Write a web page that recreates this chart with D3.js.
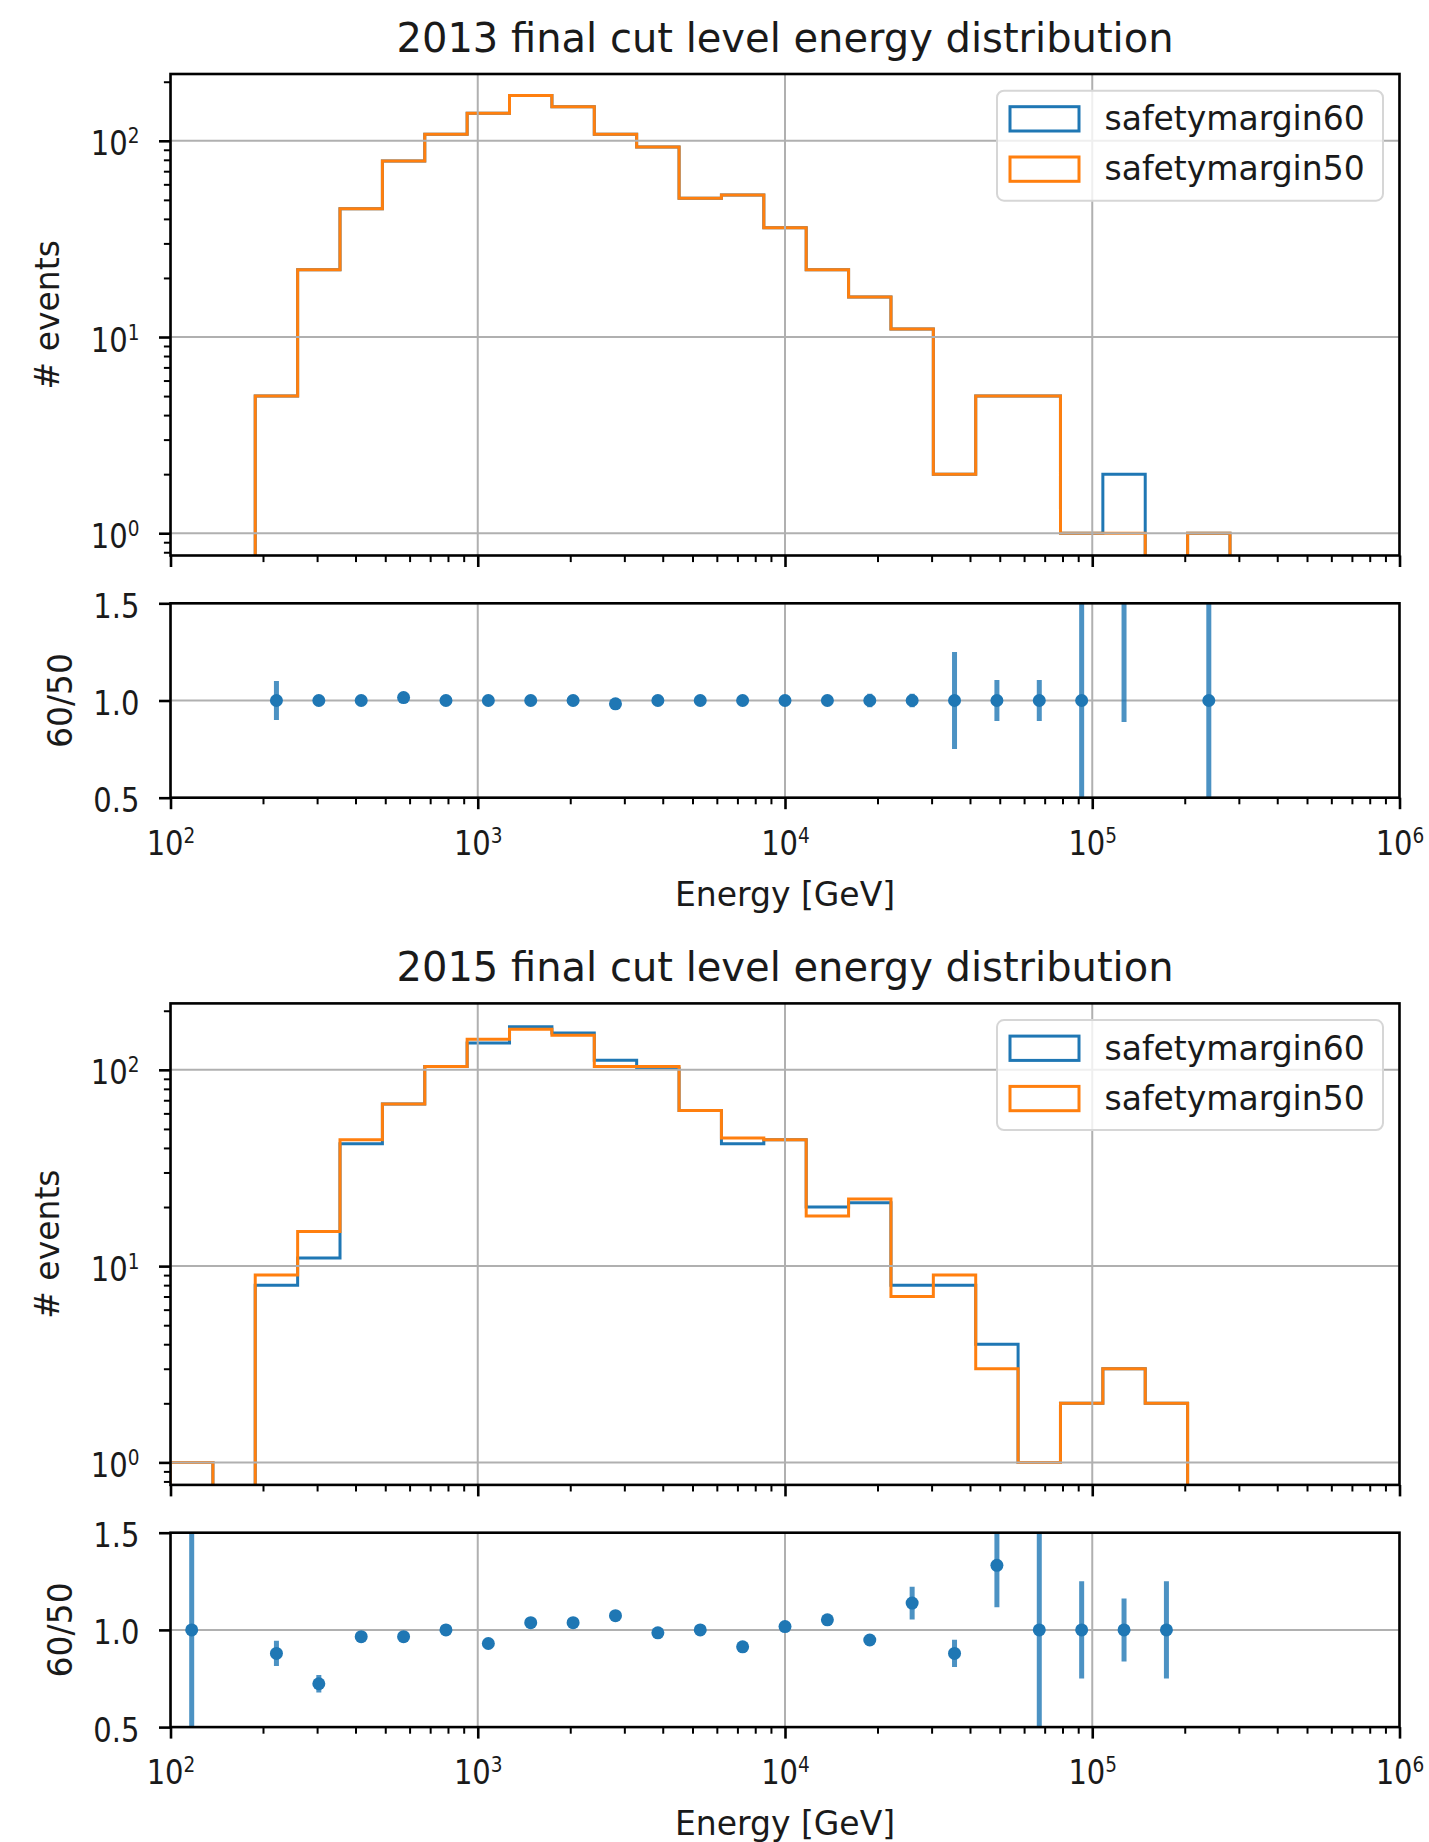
<!DOCTYPE html>
<html>
<head>
<meta charset="utf-8">
<script src="https://cdnjs.cloudflare.com/ajax/libs/d3/7.8.5/d3.min.js"></script>
<style>
body { margin: 0; background: #fff; }
svg text { font-family: "DejaVu Sans", sans-serif; fill: #1a1a1a; }
</style>
</head>
<body>
<script>
let width = 1429
let height = 1842

// histogram bin edges [GeV]
let binEdges = [100, 137.4, 188.7, 259.3, 356.2, 489.4, 672.3, 923.6, 1268.9, 1743.3,
	2395, 3290, 4521, 6210, 8532, 11722, 16104, 22124, 30394, 41755,
	57364, 78809, 108270, 148740, 204350, 280740, 385680, 529860, 727940, 1000000]

let sm60_2013 = [0, 0, 5, 22, 45, 79, 108, 138, 170, 149, 108, 93, 51, 53, 36, 22, 16, 11, 2, 5, 5, 1, 2, 0, 1, 0, 0, 0, 0]
let sm50_2013 = [0, 0, 5, 22, 45, 79, 108, 138, 170, 149, 108, 93, 51, 53, 36, 22, 16, 11, 2, 5, 5, 1, 1, 0, 1, 0, 0, 0, 0]

let sm60_2015 = [1, 0, 8, 11, 42, 67, 104, 137, 166, 154, 112, 102, 62, 42, 44, 20, 21, 8, 8, 4, 1, 2, 3, 2, 0, 0, 0, 0, 0]
let sm50_2015 = [1, 0, 9, 15, 44, 67, 104, 143, 161, 150, 104, 104, 62, 45, 44, 18, 22, 7, 9, 3, 1, 2, 3, 2, 0, 0, 0, 0, 0]

// ratio 60/50 and its error per bin
let ratio2013 = [null, null, 1.0, 1.0, 1.0, 1.015, 1.0, 1.0, 1.0, 1.0, 0.983, 1.0, 1.0, 1.0, 1.0, 1.0, 1.0, 1.0, 1.0, 1.0, 1.0, 1.0, 2.0, null, 1.0, null, null, null, null]
let err2013 = [null, null, 0.10, 0.02, 0.015, 0.015, 0.01, 0.01, 0.01, 0.01, 0.01, 0.01, 0.015, 0.015, 0.02, 0.02, 0.035, 0.035, 0.25, 0.105, 0.105, 1.41, 1.11, null, 1.41, null, null, null, null]

let ratio2015 = [1.0, null, 0.879, 0.723, 0.965, 0.965, 1.0, 0.93, 1.037, 1.037, 1.073, 0.985, 1.0, 0.913, 1.017, 1.052, 0.948, 1.138, 0.879, 1.332, 1.0, 1.0, 1.0, 1.0, null, null, null, null, null]
let err2015 = [1.41, null, 0.065, 0.045, 0.02, 0.015, 0.01, 0.01, 0.01, 0.01, 0.012, 0.01, 0.012, 0.015, 0.015, 0.02, 0.02, 0.084, 0.07, 0.216, 1.41, 0.25, 0.162, 0.25, null, null, null, null, null]

let titles = ["2013 final cut level energy distribution", "2015 final cut level energy distribution"]
let seriesNames = ["safetymargin60", "safetymargin50"]
let colors = ["#1f77b4", "#ff7f0e"]

let xTicks = [1e2, 1e3, 1e4, 1e5, 1e6]
let histTicks = [1, 10, 100]
let ratioTicks = [0.5, 1.0, 1.5]
let yDomain2013 = [0.770, 219]
let yDomain2015 = [0.768, 218]

let svg = d3.select("body")
.append("svg")
.attr("width", width)
.attr("height", height)
.style("background", "#fff")

let x = d3.scaleLog()
.domain([1e2, 1e6])
.range([170.5, 1399.5])

let x0 = x.range()[0], x1 = x.range()[1]
let isMajor = v => Math.abs(Math.log10(v) - Math.round(Math.log10(v))) < 1e-9
let xMinor = x.ticks().filter(v => !isMajor(v))
let squeeze = 0.88 // tick labels are narrower than the other text

function powLabel(sel) {
	let t = sel.append("text")
	t.append("tspan").text("10")
	t.append("tspan")
		.attr("dy", -12)
		.style("font-size", "21px")
		.text(d => Math.round(Math.log10(d)))
	return t
}

function styleAxis(g, major) {
	g.select(".domain").remove()
	g.selectAll(".tick text").remove()
	g.selectAll(".tick line")
		.attr("stroke", "#000")
		.attr("stroke-width", major ? 2.6 : 2)
}

let years = [
	{title: titles[0], counts: [sm60_2013, sm50_2013], ratio: ratio2013, err: err2013, yDomain: yDomain2013, off: 0},
	{title: titles[1], counts: [sm60_2015, sm50_2015], ratio: ratio2015, err: err2015, yDomain: yDomain2015, off: 929.4}
]

years.forEach((yr, k) => {
	let hTop = 74 + yr.off, hBot = 555.5 + yr.off
	let rTop = 603.3 + yr.off, rBot = 797.7 + yr.off

	let y = d3.scaleLog()
		.domain(yr.yDomain)
		.range([hBot, hTop])

	let yR = d3.scaleLinear()
		.domain([0.5, 1.5])
		.range([rBot, rTop])

	let defs = svg.append("defs")
	defs.append("clipPath").attr("id", "clipH" + k)
		.append("rect")
		.attr("x", x0).attr("y", hTop)
		.attr("width", x1 - x0).attr("height", hBot - hTop)
	defs.append("clipPath").attr("id", "clipR" + k)
		.append("rect")
		.attr("x", x0).attr("y", rTop)
		.attr("width", x1 - x0).attr("height", rBot - rTop)

	// title
	svg.append("text")
		.attr("x", (x0 + x1) / 2)
		.attr("y", hTop - 22)
		.attr("text-anchor", "middle")
		.style("font-size", "40px")
		.text(yr.title)

	// ---- histogram panel
	let hist = svg.append("g").attr("clip-path", "url(#clipH" + k + ")")

	let line = d3.line()
		.x(d => x(d[0]))
		.y(d => d[1] > 0 ? y(d[1]) : hBot + 20)

	yr.counts.forEach((counts, s) => {
		let pts = [[binEdges[0], 0]]
		counts.forEach((c, i) => {
			pts.push([binEdges[i], c])
			pts.push([binEdges[i + 1], c])
		})
		pts.push([binEdges[binEdges.length - 1], 0])

		hist.append("path")
			.datum(pts)
			.attr("d", line)
			.style("fill", "none")
			.style("stroke", colors[s])
			.style("stroke-width", 3)
			.style("stroke-linejoin", "miter")
	})

	hist.selectAll(".vgrid")
		.data(xTicks)
		.enter()
		.append("line")
		.attr("x1", d => x(d)).attr("x2", d => x(d))
		.attr("y1", hTop).attr("y2", hBot)
		.style("stroke", "#b0b0b0")
		.style("stroke-width", 2)

	hist.selectAll(".hgrid")
		.data(histTicks)
		.enter()
		.append("line")
		.attr("x1", x0).attr("x2", x1)
		.attr("y1", d => y(d)).attr("y2", d => y(d))
		.style("stroke", "#b0b0b0")
		.style("stroke-width", 2)

	// legend
	let leg = svg.append("g").attr("transform", `translate(997,${90.7 + yr.off})`)
	leg.append("rect")
		.attr("width", 386).attr("height", 110)
		.attr("rx", 7)
		.style("fill", "#fff").style("fill-opacity", 0.8)
		.style("stroke", "#d6d6d6").style("stroke-width", 2)
	seriesNames.forEach((name, s) => {
		leg.append("rect")
			.attr("x", 13).attr("y", 16 + s * 50.3)
			.attr("width", 69).attr("height", 24.3)
			.style("fill", "none")
			.style("stroke", colors[s])
			.style("stroke-width", 3)
		leg.append("text")
			.attr("x", 107.5).attr("y", 39.5 + s * 50)
			.style("font-size", "33px")
			.text(name)
	})

	svg.append("rect")
		.attr("x", x0).attr("y", hTop)
		.attr("width", x1 - x0).attr("height", hBot - hTop)
		.style("fill", "none").style("stroke", "#000").style("stroke-width", 2.6)

	svg.append("g")
		.attr("transform", `translate(0,${hBot})`)
		.call(d3.axisBottom(x).tickValues(xTicks).tickSize(11.5).tickFormat(""))
		.call(g => styleAxis(g, true))
	svg.append("g")
		.attr("transform", `translate(0,${hBot})`)
		.call(d3.axisBottom(x).tickValues(xMinor).tickSize(6.6).tickFormat(""))
		.call(g => styleAxis(g, false))

	let yAxisH = svg.append("g")
		.attr("transform", `translate(${x0},0)`)
		.call(d3.axisLeft(y).tickValues(histTicks).tickSize(11.5))
		.call(g => styleAxis(g, true))
	powLabel(yAxisH.selectAll(".tick"))
		.attr("transform", `translate(-31,14) scale(${squeeze},1)`)
		.attr("text-anchor", "end")
		.style("font-size", "33px")
	svg.append("g")
		.attr("transform", `translate(${x0},0)`)
		.call(d3.axisLeft(y).tickValues(y.ticks().filter(v => !isMajor(v))).tickSize(6.6).tickFormat(""))
		.call(g => styleAxis(g, false))

	svg.append("text")
		.attr("transform", `translate(59,${(hTop + hBot) / 2}) rotate(-90)`)
		.attr("text-anchor", "middle")
		.style("font-size", "33px")
		.text("# events")

	// ---- ratio panel
	let rat = svg.append("g").attr("clip-path", "url(#clipR" + k + ")")

	rat.selectAll(".vgrid")
		.data(xTicks)
		.enter()
		.append("line")
		.attr("x1", d => x(d)).attr("x2", d => x(d))
		.attr("y1", rTop).attr("y2", rBot)
		.style("stroke", "#b0b0b0")
		.style("stroke-width", 2)
	rat.selectAll(".hgrid")
		.data(ratioTicks)
		.enter()
		.append("line")
		.attr("x1", x0).attr("x2", x1)
		.attr("y1", d => yR(d)).attr("y2", d => yR(d))
		.style("stroke", "#b0b0b0")
		.style("stroke-width", 2)

	let pts = yr.ratio
		.map((r, i) => ({r: r, e: yr.err[i], c: Math.sqrt(binEdges[i] * binEdges[i + 1])}))
		.filter(d => d.r !== null)

	rat.selectAll(".ebar")
		.data(pts)
		.enter()
		.append("line")
		.attr("x1", d => x(d.c)).attr("x2", d => x(d.c))
		.attr("y1", d => yR(d.r - d.e)).attr("y2", d => yR(d.r + d.e))
		.style("stroke", "#1f77b4")
		.style("stroke-opacity", 0.8)
		.style("stroke-width", 5)

	rat.selectAll(".dot")
		.data(pts)
		.enter()
		.append("circle")
		.attr("cx", d => x(d.c))
		.attr("cy", d => yR(d.r))
		.attr("r", 6.5)
		.style("fill", "#1f77b4")

	svg.append("rect")
		.attr("x", x0).attr("y", rTop)
		.attr("width", x1 - x0).attr("height", rBot - rTop)
		.style("fill", "none").style("stroke", "#000").style("stroke-width", 2.6)

	let xAxisR = svg.append("g")
		.attr("transform", `translate(0,${rBot})`)
		.call(d3.axisBottom(x).tickValues(xTicks).tickSize(11.5))
		.call(g => styleAxis(g, true))
	powLabel(xAxisR.selectAll(".tick"))
		.attr("transform", `translate(0,57.3) scale(${squeeze},1)`)
		.attr("text-anchor", "middle")
		.style("font-size", "33px")
	svg.append("g")
		.attr("transform", `translate(0,${rBot})`)
		.call(d3.axisBottom(x).tickValues(xMinor).tickSize(6.6).tickFormat(""))
		.call(g => styleAxis(g, false))

	let yAxisR = svg.append("g")
		.attr("transform", `translate(${x0},0)`)
		.call(d3.axisLeft(yR).tickValues(ratioTicks).tickSize(11.5))
		.call(g => styleAxis(g, true))
	yAxisR.selectAll(".tick")
		.append("text")
		.attr("transform", `translate(-31,14) scale(${squeeze},1)`)
		.attr("text-anchor", "end")
		.style("font-size", "33px")
		.text(d => d3.format(".1f")(d))

	svg.append("text")
		.attr("transform", `translate(72,${(rTop + rBot) / 2}) rotate(-90)`)
		.attr("text-anchor", "middle")
		.style("font-size", "33px")
		.text("60/50")

	svg.append("text")
		.attr("x", (x0 + x1) / 2)
		.attr("y", rBot + 108.3)
		.attr("text-anchor", "middle")
		.style("font-size", "33px")
		.text("Energy [GeV]")
})
</script>
</body>
</html>
